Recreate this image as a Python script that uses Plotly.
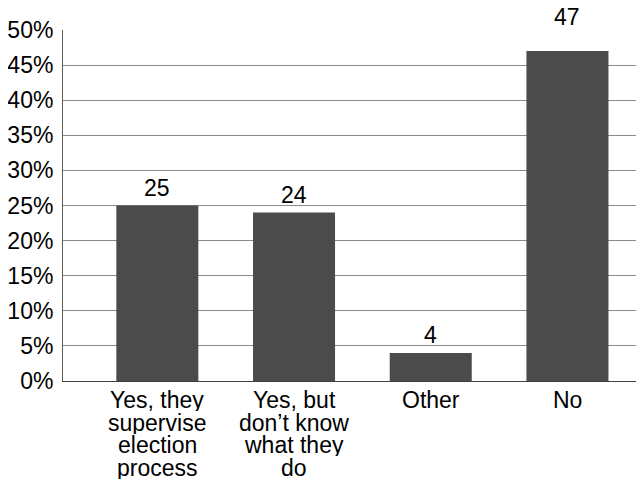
import plotly.graph_objects as go

categories = ["Yes, they supervise election process", "Yes, but don’t know what they do", "Other", "No"]
category_lines = [["Yes, they", "supervise", "election", "process"],
                  ["Yes, but", "don’t know", "what they", "do"],
                  ["Other"],
                  ["No"]]
values = [25, 24, 4, 47]
tick_vals = [0, 5, 10, 15, 20, 25, 30, 35, 40, 45, 50]
tick_text = [f"{v}%" for v in tick_vals]

FONT = "Liberation Sans, Arial, sans-serif"
FS = 23

fig = go.Figure()
fig.add_trace(go.Bar(
    x=categories, y=values,
    marker=dict(color="#4b4b4b", line=dict(width=0)),
    width=0.6,
    hoverinfo="skip",
))

annotations = []
for cat, val in zip(categories, values):
    if val > 45:
        annotations.append(dict(x=cat, y=1, xref="x", yref="paper", text=str(val),
                                showarrow=False, yanchor="bottom", yshift=-2,
                                font=dict(family=FONT, size=FS, color="#000")))
    else:
        annotations.append(dict(x=cat, y=val, xref="x", yref="y", text=str(val),
                                showarrow=False, yanchor="bottom", yshift=3,
                                font=dict(family=FONT, size=FS, color="#000")))

for cat, lines in zip(categories, category_lines):
    for k, line in enumerate(lines):
        annotations.append(dict(x=cat, y=0, xref="x", yref="paper", text=line,
                                showarrow=False, yanchor="middle", yshift=-19 - 22.7 * k,
                                height=22, valign="middle",
                                font=dict(family=FONT, size=FS, color="#000")))

fig.update_layout(
    width=636, height=477,
    margin=dict(l=55, r=0, t=22, b=104),
    paper_bgcolor="white", plot_bgcolor="white",
    showlegend=False,
    font=dict(family=FONT, size=FS, color="#000"),
    annotations=annotations,
    xaxis=dict(range=[-0.69, 3.56], showticklabels=False, showgrid=False,
               showline=True, linecolor="#404040", linewidth=1, ticks="",
               zeroline=False, fixedrange=True),
    yaxis=dict(range=[0, 50], tickvals=tick_vals, ticktext=tick_text,
               showgrid=True, gridcolor="#8a8a8a", gridwidth=1,
               showline=True, linecolor="#5a5a5a", linewidth=1,
               ticks="", ticklabelstandoff=4, zeroline=False,
               tickfont=dict(family=FONT, size=FS, color="#000")),
)

fig.write_html("out.html")
